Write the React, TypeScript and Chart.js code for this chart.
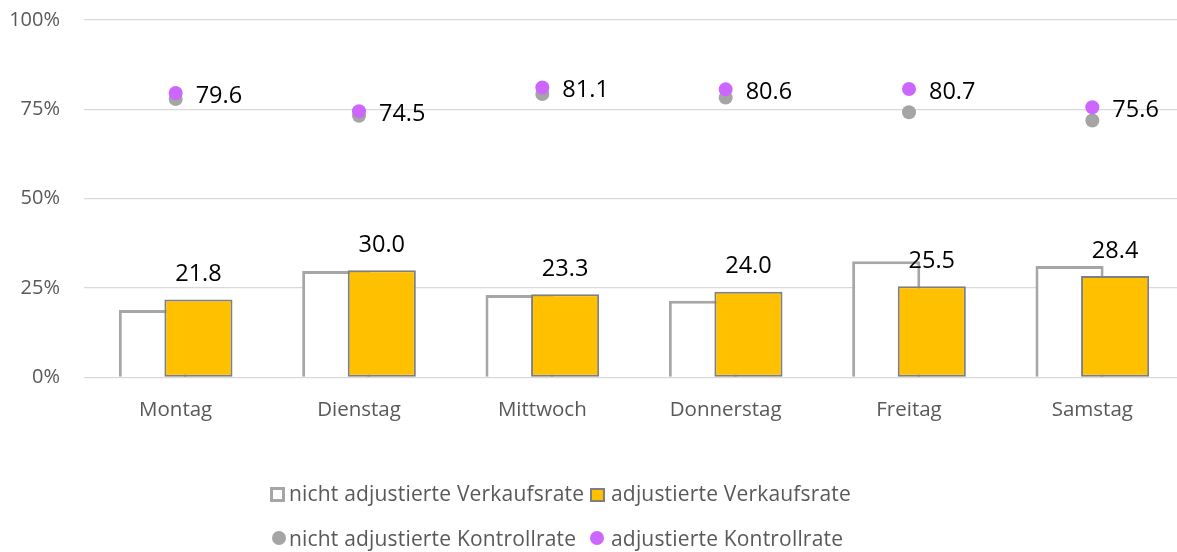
import React, { useEffect, useRef } from "react";
import { Chart, registerables } from "chart.js";

Chart.register(...registerables);

const categories = ["Montag", "Dienstag", "Mittwoch", "Donnerstag", "Freitag", "Samstag"];
const nichtAdjVerkaufsrate = [18.9, 29.8, 23.1, 21.5, 32.5, 31.2];
const adjVerkaufsrate = [21.8, 30.0, 23.3, 24.0, 25.5, 28.4];
const nichtAdjKontrollrate = [77.9, 73.2, 79.3, 78.3, 74.2, 71.9];
const adjKontrollrate = [79.6, 74.5, 81.1, 80.6, 80.7, 75.6];
const yTickValues = [0, 25, 50, 75, 100];
const seriesNames = [
  "nicht adjustierte Verkaufsrate",
  "adjustierte Verkaufsrate",
  "nicht adjustierte Kontrollrate",
  "adjustierte Kontrollrate",
];

const FONT = "'Open Sans', 'DejaVu Sans', sans-serif";
const GRAY_TEXT = "#595959";

const layerPlugin = {
  id: "layerSwap",
  beforeDatasetDraw(chart: any, args: any) {
    if (args.index === 1) {
      chart.getDatasetMeta(0).controller.draw();
    }
    if (args.index === 0) return false;
  },
};

const labelPlugin = {
  id: "valueLabels",
  afterDatasetsDraw(chart: any) {
    const ctx = chart.ctx;
    ctx.save();
    ctx.font = `23.5px ${FONT}`;
    ctx.fillStyle = "#000000";
    ctx.textBaseline = "middle";
    const barMeta = chart.getDatasetMeta(1);
    ctx.textAlign = "center";
    barMeta.data.forEach((bar: any, i: number) => {
      ctx.fillText(adjVerkaufsrate[i].toFixed(1), bar.x, bar.y - 25);
    });
    const ptMeta = chart.getDatasetMeta(3);
    ctx.textAlign = "left";
    ptMeta.data.forEach((pt: any, i: number) => {
      ctx.fillText(adjKontrollrate[i].toFixed(1), pt.x + 20, pt.y + 3);
    });
    ctx.restore();
  },
};

export default function App() {
  const ref = useRef<HTMLCanvasElement | null>(null);

  useEffect(() => {
    if (!ref.current) return;
    const chart = new Chart(ref.current, {
      type: "bar",
      data: {
        labels: categories,
        datasets: [
          {
            type: "bar",
            label: seriesNames[0],
            data: nichtAdjVerkaufsrate,
            backgroundColor: "#ffffff",
            borderColor: "#a6a6a6",
            borderWidth: 3,
            borderSkipped: "start",
            order: 2,
          },
          {
            type: "bar",
            label: seriesNames[1],
            data: adjVerkaufsrate,
            backgroundColor: "#ffc000",
            borderColor: "#7f7f7f",
            borderWidth: 2,
            borderSkipped: false,
            order: 3,
          },
          {
            type: "line",
            label: seriesNames[2],
            data: nichtAdjKontrollrate,
            showLine: false,
            pointRadius: 7,
            pointBorderWidth: 0,
            pointBackgroundColor: "#a5a5a5",
            borderColor: "#a5a5a5",
            order: 1,
          },
          {
            type: "line",
            label: seriesNames[3],
            data: adjKontrollrate,
            showLine: false,
            pointRadius: 7,
            pointBorderWidth: 0,
            pointBackgroundColor: "#cc66ff",
            borderColor: "#cc66ff",
            order: 0,
          },
        ] as any,
      },
      options: {
        responsive: false,
        animation: false,
        events: [],
        layout: { autoPadding: false, padding: { top: 20, right: 7, left: 0, bottom: 0 } },
        datasets: {
          bar: { categoryPercentage: 0.497, barPercentage: 1.495 },
        } as any,
        plugins: {
          legend: { display: false },
          title: { display: false },
          tooltip: { enabled: false },
        },
        scales: {
          x: {
            grid: { display: false },
            border: { display: false },
            ticks: {
              color: GRAY_TEXT,
              font: { family: FONT, size: 20.5 },
              padding: 12,
              maxRotation: 0,
            },
            afterFit: (scale: any) => {
              scale.height = 174.5;
              scale.paddingTop = 0;
              scale.paddingBottom = 0;
            },
          },
          y: {
            min: 0,
            max: 100,
            border: { display: false },
            grid: { color: "#d9d9d9", lineWidth: 1.3, drawTicks: false },
            afterBuildTicks: (scale: any) => {
              scale.ticks = yTickValues.map((v) => ({ value: v }));
            },
            ticks: {
              color: GRAY_TEXT,
              font: { family: FONT, size: 20 },
              padding: 24,
              callback: (v: any) => `${v}%`,
            },
            afterFit: (scale: any) => {
              scale.width = 84;
              scale.paddingTop = 0;
              scale.paddingBottom = 0;
            },
          },
        },
      },
      plugins: [layerPlugin, labelPlugin],
    });
    return () => chart.destroy();
  }, []);

  const legendText: React.CSSProperties = {
    position: "absolute",
    fontFamily: FONT,
    fontSize: 21,
    letterSpacing: "0.18px",
    lineHeight: "26px",
    color: GRAY_TEXT,
    whiteSpace: "nowrap",
  };

  return (
    <div
      style={{
        position: "fixed",
        left: 0,
        top: 0,
        width: 1177,
        height: 552,
        overflow: "hidden",
        background: "#ffffff",
      }}
    >
      <canvas ref={ref} width={1191} height={552} style={{ width: 1191, height: 552, display: "block" }} />
      {/* legend row 1 */}
      <div
        style={{
          position: "absolute",
          left: 270,
          top: 487,
          width: 15,
          height: 15,
          boxSizing: "border-box",
          border: "3px solid #a6a6a6",
          background: "#ffffff",
        }}
      />
      <span style={{ ...legendText, left: 289, top: 479.5 }}>{seriesNames[0]}</span>
      <div
        style={{
          position: "absolute",
          left: 590,
          top: 488,
          width: 15,
          height: 14,
          boxSizing: "border-box",
          border: "2px solid #7f7f7f",
          background: "#ffc000",
        }}
      />
      <span style={{ ...legendText, left: 611, top: 479.5 }}>{seriesNames[1]}</span>
      {/* legend row 2 */}
      <div
        style={{
          position: "absolute",
          left: 272,
          top: 531,
          width: 14,
          height: 14,
          borderRadius: "50%",
          background: "#a5a5a5",
        }}
      />
      <span style={{ ...legendText, left: 289, top: 525 }}>{seriesNames[2]}</span>
      <div
        style={{
          position: "absolute",
          left: 590,
          top: 531,
          width: 14,
          height: 14,
          borderRadius: "50%",
          background: "#cc66ff",
        }}
      />
      <span style={{ ...legendText, left: 611, top: 525 }}>{seriesNames[3]}</span>
    </div>
  );
}
